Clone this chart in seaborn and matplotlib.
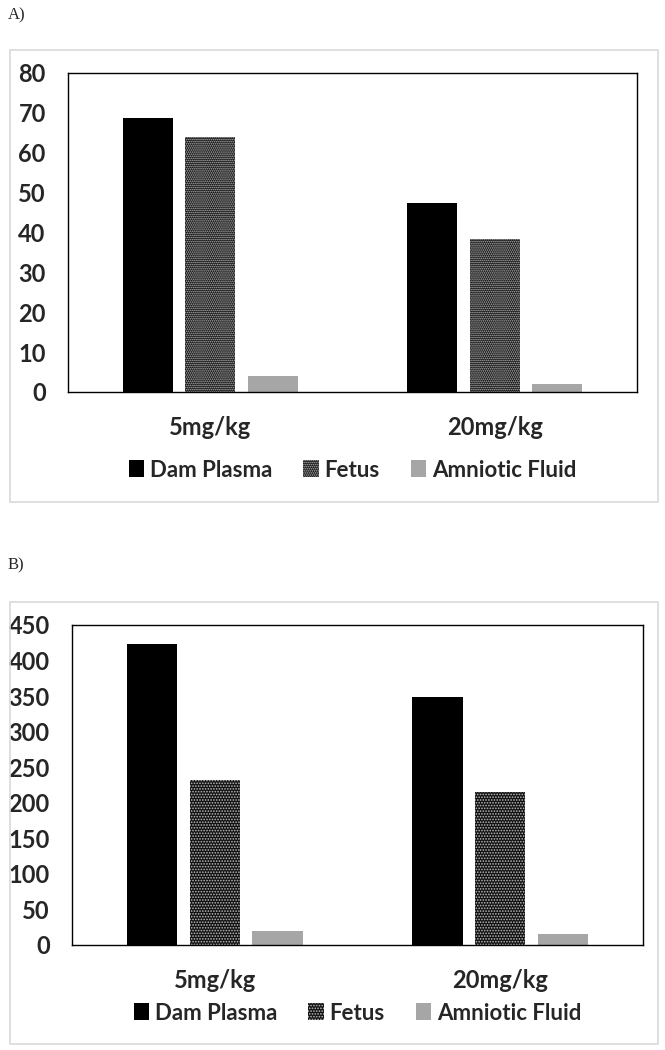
import pandas as pd
import matplotlib.pyplot as plt
import seaborn as sns
from matplotlib.patches import Rectangle

# Data
doses = ["5mg/kg", "20mg/kg"]
series = ["Dam Plasma", "Fetus", "Amniotic Fluid"]

# Panel A
dam_plasma_a = [68.7, 47.4]
fetus_a = [64.0, 38.3]
amniotic_a = [4.1, 2.0]

# Panel B
dam_plasma_b = [423, 349]
fetus_b = [232, 215]
amniotic_b = [19, 15]

colors = {"Dam Plasma": "#000000", "Fetus": "#111111", "Amniotic Fluid": "#a6a6a6"}

sns.set_style("white")
plt.rcParams["font.family"] = ["Lato", "DejaVu Sans"]
plt.rcParams["hatch.linewidth"] = 0.8


def long_table(dam, fet, amn):
    rows = []
    for name, vals in zip(series, [dam, fet, amn]):
        for dose, v in zip(doses, vals):
            rows.append({"dose": dose, "series": name, "value": v})
    return pd.DataFrame(rows)


def draw_panel(fig, rect, box, label, label_y, df, ymax, ystep, hatch, leg_y):
    # light grey frame round the panel
    fig.patches.append(Rectangle((box[0], box[1]), box[2], box[3], transform=fig.transFigure,
                                 fill=False, edgecolor="#d9d9d9", linewidth=1.2))
    fig.text(0.012, label_y, label, family="Liberation Serif", fontsize=12, va="center")

    ax = fig.add_axes(rect)
    sns.barplot(data=df, x="dose", y="value", hue="series", hue_order=series,
                palette=colors, width=0.66, gap=0.2, ax=ax, legend=False,
                edgecolor="none", linewidth=0)
    # dotted pattern on the fetus bars
    for bar in ax.containers[1]:
        bar.set_facecolor("#111111")
        bar.set_edgecolor("#bdbdbd")
        bar.set_linewidth(0)
        bar.set_hatch(hatch)

    ax.set_ylim(0, ymax)
    ax.set_yticks(range(0, ymax + 1, ystep))
    ax.set_xlim(-0.5, 1.5)
    ax.set_xlabel("")
    ax.set_ylabel("")
    for s in ax.spines.values():
        s.set_visible(True)
        s.set_color("black")
        s.set_linewidth(1.0)
    ax.tick_params(axis="y", length=0, pad=16, labelsize=17)
    ax.tick_params(axis="x", length=0, pad=17, labelsize=17)
    for t in ax.get_xticklabels() + ax.get_yticklabels():
        t.set_fontweight("bold")

    ax.legend(ax.containers, series, loc="center", bbox_to_anchor=(0.5, leg_y),
              ncol=3, frameon=False, handlelength=0.7, handleheight=0.8,
              handletextpad=0.25, columnspacing=1.4,
              prop={"weight": "bold", "size": 16})
    return ax


fig = plt.figure(figsize=(6.65, 10.5), dpi=100)

df_a = long_table(dam_plasma_a, fetus_a, amniotic_a)
df_b = long_table(dam_plasma_b, fetus_b, amniotic_b)

draw_panel(fig, [0.1023, 0.6267, 0.8556, 0.3038], [0.015, 0.522, 0.974, 0.4305],
           "A)", 1 - 15 / 1050, df_a, 80, 10, "........", -0.245)
draw_panel(fig, [0.1083, 0.1, 0.8586, 0.3048], [0.015, 0.006, 0.974, 0.421],
           "B)", 1 - 565 / 1050, df_b, 450, 50, "......", -0.2125)

plt.savefig("out.png", dpi=100)
